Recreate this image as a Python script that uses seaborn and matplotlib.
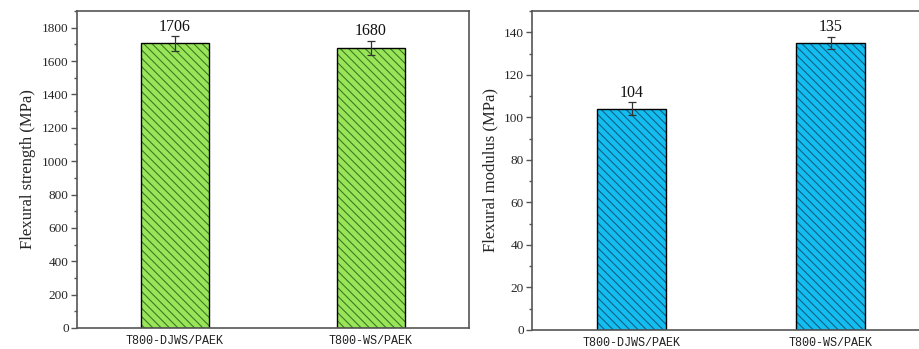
import matplotlib
matplotlib.use("Agg")
import matplotlib.pyplot as plt
import matplotlib.colors as mcolors
import seaborn as sns
import numpy as np
from matplotlib.ticker import MultipleLocator

categories = ["T800-DJWS/PAEK", "T800-WS/PAEK"]
strength = [1706, 1680]
strength_err = [45, 42]
modulus = [104, 135]
modulus_err = [3, 3]

sns.set_theme(style="white")
plt.rcParams["font.family"] = ["Liberation Serif", "DejaVu Sans"]
plt.rcParams["hatch.linewidth"] = 0.8

fig = plt.figure(figsize=(9.19, 3.49), dpi=100)
ax1 = fig.add_axes([77/919, 21/349, 392/919, 317/349])
ax2 = fig.add_axes([532/919, 19/349, 398/919, 319/349])

spine_col = "#555555"

def draw(ax, vals, errs, color, hcolor, ylim, major, minor, ylabel, offset):
    sns.barplot(x=categories, y=vals, ax=ax, color=color, width=0.35,
                edgecolor="black", linewidth=1.0, saturation=1)
    for p in ax.patches:
        p.set_hatch("\\\\\\\\")
        p._hatch_color = mcolors.to_rgba(hcolor)
    ax.errorbar(range(len(vals)), vals, yerr=errs, fmt="none",
                ecolor="#333333", elinewidth=0.9, capsize=3.2, capthick=0.9)
    for i, (v, e) in enumerate(zip(vals, errs)):
        ax.text(i, v + e + offset, f"{v}", ha="center", va="bottom",
                fontsize=11.5, color="#111111")
    ax.set_xlim(-0.5, 1.5)
    ax.set_ylim(*ylim)
    ax.yaxis.set_major_locator(MultipleLocator(major))
    ax.yaxis.set_minor_locator(MultipleLocator(minor))
    ax.tick_params(axis="y", which="major", direction="out", length=4,
                   width=1, color=spine_col, labelsize=9.5, left=True, pad=2)
    ax.tick_params(axis="y", which="minor", direction="out", length=2.5,
                   width=1, color=spine_col, left=True)
    ax.tick_params(axis="x", which="both", bottom=False, length=0, pad=5)
    for lbl in ax.get_xticklabels():
        lbl.set_fontfamily("Liberation Mono")
        lbl.set_fontsize(8.5)
        lbl.set_color("#222222")
    ax.set_ylabel(ylabel, fontsize=12, labelpad=4)
    ax.set_xlabel("")
    for s in ax.spines.values():
        s.set_color(spine_col)
        s.set_linewidth(1.2)
        s.set_visible(True)

draw(ax1, strength, strength_err, "#99E55A", "#3f7a22", (0, 1900), 200, 100,
     "Flexural strength (MPa)", 8)
draw(ax2, modulus, modulus_err, "#14BDF0", "#0d5f86", (0, 150), 20, 10,
     "Flexural modulus (MPa)", 0.6)

fig.savefig("out.png", dpi=100)
